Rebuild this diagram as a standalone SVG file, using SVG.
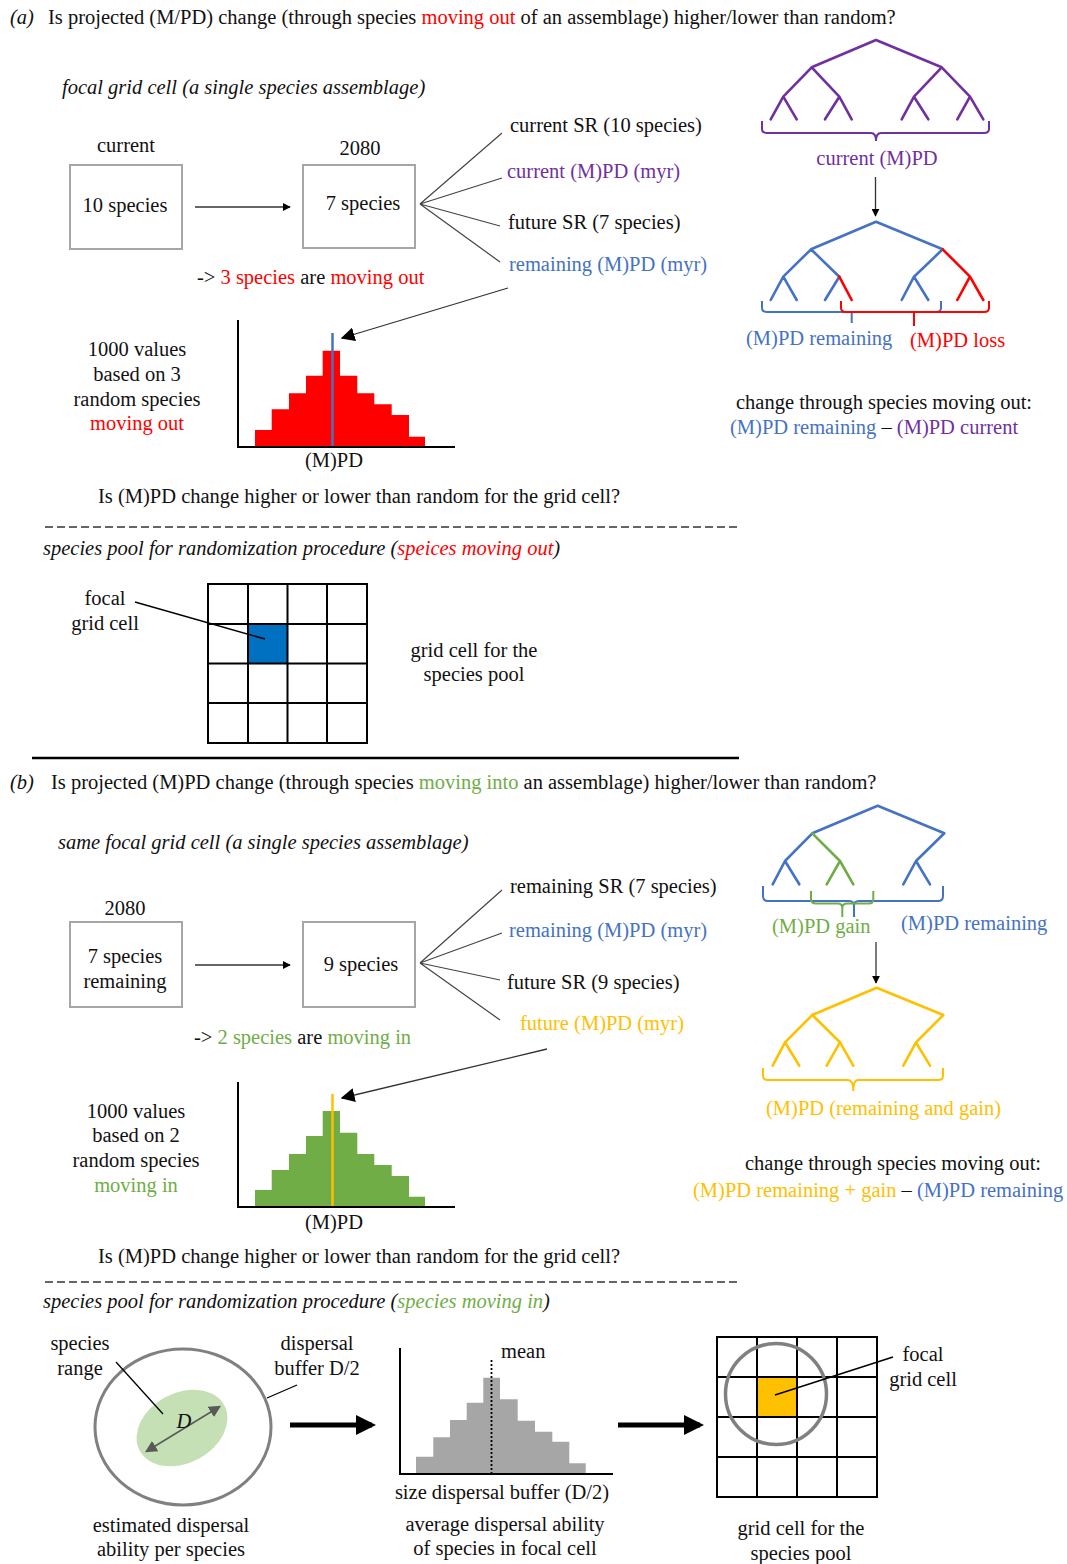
<svg xmlns="http://www.w3.org/2000/svg" width="1067" height="1564" viewBox="0 0 1067 1564">
  <style>
    text { font-family: "Liberation Serif", "Times New Roman", serif; font-size: 20.5px; fill: #111; }
    .it { font-style: italic; }
    .mid { text-anchor: middle; }
    .pu { fill: #7030A0; }
    .bl { fill: #4472C4; }
    .rd { fill: #FF0000; }
    .gr { fill: #70AD47; }
    .ye { fill: #FFC000; }
    .box { fill: #fff; stroke: #A6A6A6; stroke-width: 2; }
    .conn { stroke: #333; stroke-width: 1.3; fill: none; }
    .fan { stroke: #444; stroke-width: 1.2; fill: none; }
    .axis { stroke: #000; stroke-width: 2; fill: none; }
    .grid { stroke: #000; stroke-width: 2; fill: none; }
    .tree { fill: none; stroke-width: 2.6; stroke-linecap: round; stroke-linejoin: round; }
    .brace { fill: none; stroke-width: 2; }
    .tp { stroke: #7030A0; }
    .tb { stroke: #4472C4; }
    .tr { stroke: #FF0000; }
    .tg { stroke: #70AD47; }
    .ty { stroke: #FFC000; }
  </style>
  <defs>
    <marker id="ah" viewBox="0 0 10 10" refX="9" refY="5" markerWidth="8" markerHeight="8" markerUnits="userSpaceOnUse" orient="auto">
      <path d="M0,0 L10,5 L0,10 z" fill="#000"/>
    </marker>
    <marker id="ahl" viewBox="0 0 10 10" refX="9" refY="5" markerWidth="14" markerHeight="14" markerUnits="userSpaceOnUse" orient="auto">
      <path d="M0,0 L10,5 L0,10 z" fill="#000"/>
    </marker>
    <marker id="ahg" viewBox="0 0 10 10" refX="8" refY="5" markerWidth="12" markerHeight="12" markerUnits="userSpaceOnUse" orient="auto-start-reverse">
      <path d="M0,0 L10,5 L0,10 z" fill="#595959"/>
    </marker>
    <marker id="ahb" viewBox="0 0 10 10" refX="8" refY="5" markerWidth="4" markerHeight="4" orient="auto">
      <path d="M0,0 L10,5 L0,10 z" fill="#000"/>
    </marker>
  </defs>

  <rect width="1067" height="1564" fill="#fff"/>

  <!-- ===== panel (a) ===== -->
  <g id="title-a">
    <text x="10" y="24"><tspan class="it">(a)</tspan><tspan x="48">Is projected (M/PD) change (through species </tspan><tspan class="rd">moving out</tspan> of an assemblage) higher/lower than random?</text>
    <text x="62" y="94" class="it">focal grid cell (a single species assemblage)</text>
  </g>

  <g id="box-current">
    <text x="126" y="152" class="mid">current</text>
    <rect class="box" x="70" y="165" width="112" height="84"/>
    <text x="125" y="212" class="mid">10 species</text>
  </g>
  <g id="box-2080-a">
    <text x="360" y="155" class="mid">2080</text>
    <rect class="box" x="303" y="165" width="112" height="83"/>
    <text x="363" y="210" class="mid">7 species</text>
  </g>
  <g id="labels-a">
    <text x="510" y="132">current SR (10 species)</text>
    <text x="507" y="178" class="pu">current (M)PD (myr)</text>
    <text x="508" y="229">future SR (7 species)</text>
    <text x="509" y="271" class="bl">remaining (M)PD (myr)</text>
    <text x="197" y="284">-&gt; <tspan class="rd">3 species</tspan> are <tspan class="rd">moving out</tspan></text>
  </g>

  <g id="hist-a">
    <path fill="#FF0000" d="M255,447 V430 H271.7 V409.3 H289 V393.3 H306 V375.7 H322.7 V350.7 H340 V375.7 H357.3 V393.3 H374.3 V404.3 H391.7 V415 H409 V436.7 H425 V447 Z"/>
    <line x1="332.5" y1="333" x2="332.5" y2="446" stroke="#4472C4" stroke-width="2.5"/>
    <path class="axis" d="M238,320 V447 H455"/>
    <text x="334" y="467" class="mid">(M)PD</text>
    <text x="137" y="356" class="mid">1000 values</text>
    <text x="137" y="381" class="mid">based on 3</text>
    <text x="137" y="406" class="mid">random species</text>
    <text x="137" y="430" class="mid rd">moving out</text>
  </g>

  <g id="tree-current">
    <path class="tree tp" d="M811.7,67.3 L876,40 L941.7,67.3 M811.7,67.3 L783.3,96.7 M811.7,67.3 L839.3,96.7 M941.7,67.3 L914,96.7 M941.7,67.3 L970,96.7 M783.3,96.7 L770.7,119.3 M783.3,96.7 L796.7,119.3 M839.3,96.7 L825,119.3 M839.3,96.7 L851.7,119.3 M914,96.7 L901.7,119.3 M914,96.7 L928.3,119.3 M970,96.7 L957.3,119.3 M970,96.7 L983.3,119.3"/>
    <path class="brace tp" d="M762,121 V129 Q762,133 767,133 H871 Q876,133 876,141 Q876,133 881,133 H984 Q989,133 989,129 V121"/>
    <text x="877" y="165" class="mid pu">current (M)PD</text>
  </g>
  <g id="tree-remaining">
    <path class="tree tb" d="M811,249.3 L876,221.7 L942.7,249.3 M811,249.3 L783.3,276.7 M811,249.3 L839.3,276.7 M942.7,249.3 L914,276.7 M783.3,276.7 L770.7,300 M783.3,276.7 L796.7,300 M839.3,276.7 L825,300 M914,276.7 L901.7,300 M914,276.7 L928.3,300"/>
    <path class="tree tr" d="M839.3,276.7 L851.7,300 M942.7,249.3 L970,276.7 M970,276.7 L957.3,300 M970,276.7 L983.3,300"/>
    <path class="brace tb" d="M762,301 V308 Q762,312 767,312 H936 Q941,312 941,308 V301 M851.7,312 V323"/>
    <path class="brace tr" d="M841,301 V308 Q841,312 846,312 H984 Q989,312 989,308 V301 M914,312 V326"/>
    <text x="746" y="345" class="bl">(M)PD remaining</text>
    <text x="910" y="347" class="rd">(M)PD loss</text>
  </g>
  <g id="formula-a">
    <text x="884" y="409" class="mid">change through species moving out:</text>
    <text x="730" y="434"><tspan class="bl">(M)PD remaining</tspan> – <tspan class="pu">(M)PD current</tspan></text>
  </g>

  <g id="question-a">
    <text x="98" y="503">Is (M)PD change higher or lower than random for the grid cell?</text>
  </g>

  <line x1="45" y1="527" x2="738" y2="527" stroke="#333" stroke-width="1.6" stroke-dasharray="8,4"/>

  <g id="pool-a">
    <text x="43" y="555" class="it">species pool for randomization procedure (<tspan class="rd">speices moving out</tspan>)</text>
    <rect x="248" y="624" width="39.6" height="39.6" fill="#0070C0"/>
    <path class="grid" d="M208,584 H367 V743 H208 Z M208,624 H367 M208,663.5 H367 M208,703 H367 M248,584 V743 M287.5,584 V743 M327,584 V743"/>
    <line x1="135" y1="602" x2="265" y2="639" stroke="#000" stroke-width="1.5"/>
    <text x="105" y="605" class="mid">focal</text>
    <text x="105" y="630" class="mid">grid cell</text>
    <text x="474" y="657" class="mid">grid cell for the</text>
    <text x="474" y="681" class="mid">species pool</text>
  </g>

  <line x1="32" y1="758" x2="739" y2="758" stroke="#000" stroke-width="2.5"/>

  <!-- ===== panel (b) ===== -->
  <g id="title-b">
    <text x="10" y="789"><tspan class="it">(b)</tspan><tspan x="51">Is projected (M)PD change (through species </tspan><tspan class="gr">moving into</tspan> an assemblage) higher/lower than random?</text>
    <text x="58" y="849" class="it">same focal grid cell (a single species assemblage)</text>
  </g>

  <g id="box-2080-b">
    <text x="125" y="915" class="mid">2080</text>
    <rect class="box" x="70" y="922" width="112" height="85"/>
    <text x="125" y="963" class="mid">7 species</text>
    <text x="125" y="988" class="mid">remaining</text>
  </g>
  <g id="box-future-b">
    <rect class="box" x="303" y="922" width="112" height="85"/>
    <text x="361" y="971" class="mid">9 species</text>
  </g>
  <g id="labels-b">
    <text x="510" y="893">remaining SR (7 species)</text>
    <text x="509" y="937" class="bl">remaining (M)PD (myr)</text>
    <text x="507" y="989">future SR (9 species)</text>
    <text x="520" y="1030" class="ye">future (M)PD (myr)</text>
    <text x="194" y="1044">-&gt; <tspan class="gr">2 species</tspan> are <tspan class="gr">moving in</tspan></text>
  </g>

  <g id="hist-b">
    <path fill="#70AD47" d="M255,1207 V1190 H271.7 V1170 H289 V1154 H306 V1136 H322.7 V1111 H340 V1132.7 H357.3 V1154 H374.3 V1165 H391.7 V1176 H409 V1196.7 H425 V1207 Z"/>
    <line x1="332.5" y1="1094" x2="332.5" y2="1206" stroke="#FFC000" stroke-width="2.5"/>
    <path class="axis" d="M238,1082 V1207 H455"/>
    <text x="334" y="1229" class="mid">(M)PD</text>
    <text x="136" y="1118" class="mid">1000 values</text>
    <text x="136" y="1142" class="mid">based on 2</text>
    <text x="136" y="1167" class="mid">random species</text>
    <text x="136" y="1192" class="mid gr">moving in</text>
  </g>

  <g id="tree-gain">
    <path class="tree tb" d="M812.3,833.3 L877.7,805.7 L944.3,833.3 M812.3,833.3 L785,861 M785,861 L772.7,884.3 M785,861 L799.3,884.3 M944.3,833.3 L916,861 M916,861 L903.3,884.3 M916,861 L930,884.3"/>
    <path class="tree tg" d="M812.3,833.3 L840,861 M840,861 L826.7,884.3 M840,861 L853.3,884.3"/>
    <path class="brace tb" d="M763,886 V896 Q763,901 768,901 H849 Q854,901 854,906 V917 M854,906 Q854,901 859,901 H938 Q943,901 943,896 V886"/>
    <path class="brace tg" d="M811,891 V899 Q811,903.5 816,903.5 H838 Q842.3,903.5 842.3,908 V917 M842.3,908 Q842.3,903.5 847,903.5 H869 Q873.3,903.5 873.3,899 V891"/>
    <text x="772" y="933" class="gr">(M)PD gain</text>
    <text x="901" y="930" class="bl">(M)PD remaining</text>
  </g>
  <g id="tree-future">
    <path class="tree ty" d="M812.3,1015 L876.7,987.7 L943.3,1015 M812.3,1015 L785,1042.3 M812.3,1015 L840,1042.3 M943.3,1015 L916,1042.3 M785,1042.3 L772.7,1065.7 M785,1042.3 L799.3,1065.7 M840,1042.3 L826.7,1065.7 M840,1042.3 L853.3,1065.7 M916,1042.3 L903.3,1065.7 M916,1042.3 L930,1065.7"/>
    <path class="brace ty" d="M763,1068 V1076 Q763,1080 768,1080 H848 Q853.3,1080 853.3,1091 Q853.3,1080 858,1080 H938 Q943,1080 943,1076 V1068"/>
    <text x="766" y="1115" class="ye">(M)PD (remaining and gain)</text>
  </g>
  <g id="formula-b">
    <text x="893" y="1170" class="mid">change through species moving out:</text>
    <text x="693" y="1197"><tspan class="ye">(M)PD remaining + gain</tspan> – <tspan class="bl">(M)PD remaining</tspan></text>
  </g>

  <g id="question-b">
    <text x="98" y="1263">Is (M)PD change higher or lower than random for the grid cell?</text>
  </g>

  <line x1="45" y1="1282" x2="738" y2="1282" stroke="#333" stroke-width="1.6" stroke-dasharray="8,4"/>

  <g id="pool-b-title">
    <text x="43" y="1308" class="it">species pool for randomization procedure (<tspan class="gr">species moving in</tspan>)</text>
  </g>

  <g id="range">
    <ellipse cx="183" cy="1427" rx="88" ry="78" fill="#fff" stroke="#808080" stroke-width="3"/>
    <ellipse cx="182" cy="1428" rx="48" ry="35" transform="rotate(-28 182 1428)" fill="#C5E0B4"/>
    <line x1="147" y1="1451" x2="219" y2="1407" stroke="#595959" stroke-width="1.5" marker-start="url(#ahg)" marker-end="url(#ahg)"/>
    <text x="184" y="1428" class="mid it">D</text>
    <line x1="116" y1="1362" x2="163" y2="1414" stroke="#000" stroke-width="1.3"/>
    <line x1="297" y1="1385" x2="267" y2="1398" stroke="#000" stroke-width="1.3"/>
    <text x="80" y="1350" class="mid">species</text>
    <text x="80" y="1375" class="mid">range</text>
    <text x="317" y="1350" class="mid">dispersal</text>
    <text x="317" y="1375" class="mid">buffer D/2</text>
    <text x="171" y="1532" class="mid">estimated dispersal</text>
    <text x="171" y="1556" class="mid">ability per species</text>
  </g>

  <g id="hist-buffer">
    <path fill="#A6A6A6" d="M416,1474 V1456.7 H433.3 V1437.3 H450 V1420 H466.7 V1402.7 H483.3 V1377.7 H500 V1399.3 H517.7 V1420.7 H535 V1431.7 H552.3 V1441.7 H569.3 V1463.3 H585.7 V1474 Z"/>
    <line x1="491.5" y1="1360" x2="491.5" y2="1474" stroke="#000" stroke-width="1.8" stroke-dasharray="2,2"/>
    <path class="axis" d="M400,1348 V1474 H613"/>
    <text x="501" y="1358">mean</text>
    <text x="502" y="1499" class="mid">size dispersal buffer (D/2)</text>
    <text x="505" y="1531" class="mid">average dispersal ability</text>
    <text x="505" y="1555" class="mid">of species in focal cell</text>
  </g>

  <g id="pool-b">
    <rect x="756.7" y="1376.7" width="40" height="40" fill="#FFC000"/>
    <path class="grid" d="M717,1337 H877 V1497 H717 Z M717,1377 H877 M717,1417 H877 M717,1457 H877 M757,1337 V1497 M797,1337 V1497 M837,1337 V1497"/>
    <circle cx="776" cy="1394" r="50.5" fill="none" stroke="#808080" stroke-width="3.5"/>
    <line x1="775" y1="1395" x2="893" y2="1357" stroke="#000" stroke-width="1.5"/>
    <text x="923" y="1361" class="mid">focal</text>
    <text x="923" y="1386" class="mid">grid cell</text>
    <text x="801" y="1535" class="mid">grid cell for the</text>
    <text x="801" y="1560" class="mid">species pool</text>
  </g>

  <!-- connectors -->
  <g id="connectors">
    <line class="conn" x1="195" y1="207" x2="290" y2="207" marker-end="url(#ah)"/>
    <path class="fan" d="M420,204 L502,133 M420,204 L502,178 M420,204 L500,226 M420,204 L500,262"/>
    <line class="conn" x1="508" y1="288" x2="342" y2="338" marker-end="url(#ahl)"/>
    <line class="conn" x1="875.5" y1="177" x2="875.5" y2="216" marker-end="url(#ah)"/>

    <line class="conn" x1="195" y1="965" x2="290" y2="965" marker-end="url(#ah)"/>
    <path class="fan" d="M420,963 L502,890 M420,963 L502,933 M420,963 L500,980 M420,963 L500,1020"/>
    <line class="conn" x1="547" y1="1049" x2="342" y2="1098" marker-end="url(#ahl)"/>
    <line class="conn" x1="876" y1="942" x2="876" y2="983" marker-end="url(#ah)"/>

    <line x1="290" y1="1425" x2="372" y2="1425" stroke="#000" stroke-width="5" marker-end="url(#ahb)"/>
    <line x1="618" y1="1425" x2="700" y2="1425" stroke="#000" stroke-width="5" marker-end="url(#ahb)"/>
  </g>
</svg>
